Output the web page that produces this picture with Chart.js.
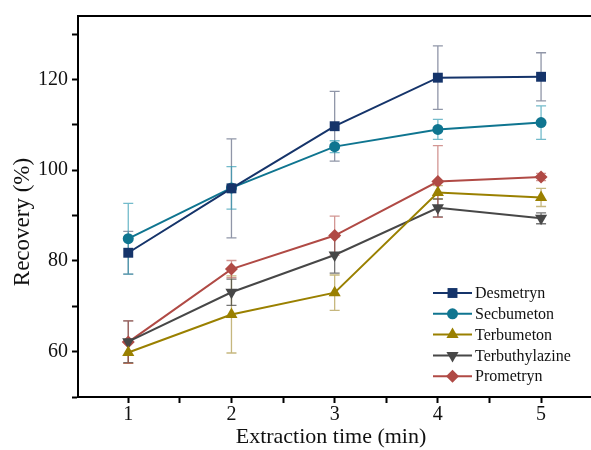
<!DOCTYPE html>
<html>
<head>
<meta charset="utf-8">
<script src="https://cdn.jsdelivr.net/npm/chart.js@4"></script>
<style>
  html, body { margin: 0; padding: 0; background: #fff; }
  #wrap { width: 591px; height: 450px; }
</style>
</head>
<body>
<div id="wrap"><canvas id="recoveryChart" width="591" height="450"></canvas></div>
<script>
// ─── DATA ───
const extractionTimes = [1, 2, 3, 4, 5];
const seriesNames = ['Desmetryn', 'Secbumeton', 'Terbumeton', 'Terbuthylazine', 'Prometryn'];

const desmetryn = [81.8, 96.0, 109.7, 120.4, 120.6];
const desmetrynErr = [4.7, 10.9, 7.7, 7.0, 5.3];
const secbumeton = [84.9, 96.1, 105.2, 109.0, 110.5];
const secbumetonErr = [7.8, 4.7, 1.3, 2.2, 3.7];
const terbumeton = [59.8, 68.2, 73.0, 95.1, 94.0];
const terbumetonErr = [2.4, 8.5, 3.9, 1.5, 2.0];
const terbuthylazine = [62.2, 73.1, 81.3, 91.7, 89.4];
const terbuthylazineErr = [4.6, 2.9, 4.0, 2.0, 1.2];
const prometryn = [62.1, 78.2, 85.6, 97.5, 98.5];
const prometrynErr = [4.7, 1.9, 4.3, 7.9, 0.8];

const FONT = "'Liberation Serif', 'Times New Roman', serif";

function toPoints(values) {
    return extractionTimes.map((t, i) => ({ x: t, y: values[i] }));
}

function makeSet(label, values, errs, color, errColor, style, radius, rotation) {
    return {
        label: label,
        data: toPoints(values),
        errors: errs,
        errColor: errColor,
        borderColor: color,
        backgroundColor: color,
        borderWidth: 2,
        pointStyle: style,
        pointRadius: radius,
        pointHoverRadius: radius,
        pointRotation: rotation || 0,
        pointBorderWidth: 0,
        tension: 0,
        fill: false
    };
}

// ─── ERROR BARS ───
const errorBarPlugin = {
    id: 'errorBars',
    beforeDatasetsDraw(chart) {
        const ctx = chart.ctx;
        const xs = chart.scales.x, ys = chart.scales.y;
        chart.data.datasets.forEach(ds => {
            ctx.save();
            ctx.strokeStyle = ds.errColor;
            ctx.lineWidth = 1.3;
            ds.data.forEach((p, i) => {
                const e = ds.errors[i];
                const px = xs.getPixelForValue(p.x);
                const top = ys.getPixelForValue(p.y + e);
                const bot = ys.getPixelForValue(p.y - e);
                ctx.beginPath();
                ctx.moveTo(px, top); ctx.lineTo(px, bot);
                ctx.moveTo(px - 5, top); ctx.lineTo(px + 5, top);
                ctx.moveTo(px - 5, bot); ctx.lineTo(px + 5, bot);
                ctx.stroke();
            });
            ctx.restore();
        });
    }
};

// ─── TOP FRAME LINE, Y TITLE + LEGEND ───
const framePlugin = {
    id: 'frameAndLegend',
    afterDraw(chart) {
        const ctx = chart.ctx;
        const area = chart.chartArea;
        ctx.save();
        ctx.strokeStyle = '#000';
        ctx.lineWidth = 2;
        ctx.beginPath();
        ctx.moveTo(area.left - 1, area.top);
        ctx.lineTo(chart.width, area.top);
        ctx.moveTo(area.right, area.bottom);
        ctx.lineTo(chart.width, area.bottom);
        ctx.stroke();

        // y axis title
        ctx.save();
        ctx.translate(23, 222);
        ctx.rotate(-Math.PI / 2);
        ctx.font = '23px ' + FONT;
        ctx.fillStyle = '#111';
        ctx.textAlign = 'center';
        ctx.textBaseline = 'middle';
        ctx.fillText('Recovery (%)', 0, 0);
        ctx.restore();

        // legend inside lower right
        const lx = 433, ly = 293, gap = 20.8;
        ctx.font = '16px ' + FONT;
        ctx.textBaseline = 'middle';
        chart.data.datasets.forEach((ds, i) => {
            const y = ly + i * gap;
            ctx.strokeStyle = ds.borderColor;
            ctx.lineWidth = 2;
            ctx.beginPath();
            ctx.moveTo(lx, y); ctx.lineTo(lx + 39, y);
            ctx.stroke();
            ctx.fillStyle = ds.backgroundColor;
            Chart.helpers.drawPoint(ctx, {
                pointStyle: ds.pointStyle,
                radius: ds.pointRadius,
                rotation: ds.pointRotation,
                borderWidth: 0
            }, lx + 19.5, y);
            ctx.fillStyle = '#111';
            ctx.fillText(ds.label, lx + 42, y + 1);
        });
        ctx.restore();
    }
};

// ─── CREATE THE CHART ───
const ctx = document.getElementById('recoveryChart').getContext('2d');
const recoveryChart = new Chart(ctx, {
    type: 'line',
    data: {
        datasets: [
            makeSet(seriesNames[0], desmetryn, desmetrynErr, '#15346a', 'rgba(70,80,110,0.6)', 'rect', 7),
            makeSet(seriesNames[1], secbumeton, secbumetonErr, '#0f7590', 'rgba(40,150,175,0.65)', 'circle', 5.5),
            makeSet(seriesNames[2], terbumeton, terbumetonErr, '#9a8000', 'rgba(160,135,40,0.6)', 'triangle', 7),
            makeSet(seriesNames[3], terbuthylazine, terbuthylazineErr, '#474747', 'rgba(60,60,60,0.7)', 'triangle', 7, 180),
            makeSet(seriesNames[4], prometryn, prometrynErr, '#b04a45', 'rgba(180,80,75,0.6)', 'rectRot', 6.5)
        ]
    },
    options: {
        responsive: false,
        animation: false,
        layout: { padding: { top: 15, right: 0, left: 0, bottom: 0 } },
        scales: {
            x: {
                type: 'linear',
                min: 0.513,
                max: 5.416,
                afterFit: s => { s.height = 53; },
                afterBuildTicks: s => {
                    s.ticks = [1, 1.5, 2, 2.5, 3, 3.5, 4, 4.5, 5].map(v => ({ value: v }));
                },
                border: { display: true, color: '#000', width: 2 },
                grid: { drawOnChartArea: false, drawTicks: true, tickLength: 6, tickColor: '#000', tickWidth: 2 },
                ticks: {
                    color: '#111',
                    font: { family: FONT, size: 20 },
                    padding: 0,
                    maxRotation: 0,
                    autoSkip: false,
                    callback: v => (Number.isInteger(v) ? String(v) : '')
                },
                title: {
                    display: true,
                    text: 'Extraction time (min)',
                    color: '#111',
                    font: { family: FONT, size: 22 },
                    padding: { top: -4, bottom: 0 }
                }
            },
            y: {
                min: 50,
                max: 134,
                afterFit: s => { s.width = 78; },
                afterBuildTicks: s => {
                    s.ticks = [50, 60, 70, 80, 90, 100, 110, 120, 130].map(v => ({ value: v }));
                },
                border: { display: true, color: '#000', width: 2 },
                grid: { drawOnChartArea: false, drawTicks: true, tickLength: 6, tickColor: '#000', tickWidth: 2 },
                ticks: {
                    color: '#111',
                    font: { family: FONT, size: 20 },
                    padding: 4,
                    autoSkip: false,
                    callback: v => (v % 20 === 0 ? String(v) : '')
                },
                title: { display: false }
            }
        },
        plugins: {
            legend: { display: false },
            tooltip: { enabled: false }
        }
    },
    plugins: [errorBarPlugin, framePlugin]
});
</script>
</body>
</html>
